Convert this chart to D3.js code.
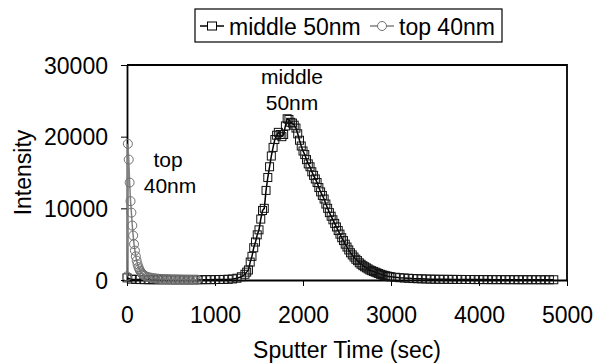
<!DOCTYPE html>
<html>
<head>
<meta charset="utf-8">
<script src="https://cdn.jsdelivr.net/npm/d3@7"></script>
<style>
  body { margin: 0; background: #fff; }
  svg text { font-family: "Liberation Sans", Arial, sans-serif; fill: #000; }
</style>
</head>
<body>
<div id="chart"></div>
<script>
// middle 50nm series (sec, counts)
const middleTime = [0, 50, 100, 150, 200, 250, 300, 350, 400, 450, 500, 550, 600, 650, 700, 750, 800, 850, 900, 950, 1000, 1050, 1100, 1150, 1200, 1250, 1300, 1340,
  1360, 1380, 1400, 1420, 1440, 1460, 1480, 1500, 1520, 1540, 1560, 1580, 1600, 1620, 1640, 1660, 1680, 1700, 1720, 1740, 1760, 1780, 1800, 1820, 1840, 1860, 1880, 1900,
  1920, 1940, 1960, 1980, 2000, 2020, 2040, 2060, 2080, 2100, 2120, 2140, 2160, 2180, 2200, 2220, 2240, 2260, 2280, 2300, 2320, 2340, 2360, 2380, 2400, 2420, 2440, 2460,
  2480, 2500, 2520, 2540, 2560, 2580, 2600, 2620, 2640, 2660, 2680, 2700, 2720, 2740, 2760, 2780, 2800, 2820, 2840, 2860, 2880, 2900, 2920, 2940, 2960, 2980, 3000,
  3050, 3100, 3150, 3200, 3250, 3300, 3350, 3400, 3450, 3500, 3550, 3600, 3650, 3700, 3750, 3800, 3850, 3900, 3950, 4000, 4050, 4100, 4150, 4200, 4250, 4300, 4350,
  4400, 4450, 4500, 4550, 4600, 4650, 4700, 4750, 4800, 4850];
const middleIntensity = [300, 120, 80, 60, 50, 40, 40, 30, 30, 30, 30, 30, 30, 30, 30, 40, 40, 40, 50, 50, 60, 70, 80, 100, 150, 250, 450, 800,
  1100, 1400, 2500, 3300, 4500, 5300, 6300, 7000, 8500, 9700, 10000, 12500, 14300, 15800, 17300, 18500, 19600, 20200, 20600, 20300, 20000, 20300, 21500, 22500, 22400, 22000, 21900, 21600,
  21200, 20400, 19500, 18700, 18000, 17500, 16800, 16200, 15800, 15100, 14600, 14100, 13600, 12900, 12300, 11800, 11300, 10600, 10000, 9400, 8900, 8400, 7900, 7400, 6900, 6400, 5900, 5500,
  5000, 4600, 4200, 3800, 3500, 3200, 2900, 2700, 2400, 2200, 2000, 1850, 1700, 1550, 1400, 1300, 1200, 1100, 1000, 900, 800, 720, 650, 590, 530, 480, 440,
  380, 320, 280, 240, 200, 180, 160, 140, 120, 110, 100, 95, 90, 85, 80, 75, 70, 65, 60, 60, 55, 55, 50, 50, 50, 45, 45,
  45, 40, 40, 40, 40, 40, 35, 35, 35, 35, 35];

// top 40nm series
const topTime = [0, 10, 20, 30, 40, 50, 60, 70, 80, 90, 100, 110, 120, 130, 140, 150, 160, 170, 180, 190, 200,
  220, 240, 260, 280, 300, 320, 340, 360, 380, 400, 420, 440, 460, 480, 500, 520, 540, 560, 580, 600,
  620, 640, 660, 680, 700, 720, 740, 760, 780, 800];
const topIntensity = [500, 19000, 16800, 13600, 11000, 9400, 7600, 6200, 5000, 4100, 3300, 2700, 2200, 1800, 1500, 1250, 1050, 900, 780, 680, 600,
  480, 400, 340, 290, 250, 220, 190, 170, 150, 135, 125, 115, 110, 100, 90, 85, 80, 80, 75, 70,
  65, 60, 60, 55, 55, 50, 50, 45, 45, 45];

const xTicks = [0, 1000, 2000, 3000, 4000, 5000];
const yTicks = [0, 10000, 20000, 30000];

const W = 595, H = 363;
const margin = { top: 65, right: 28, bottom: 83, left: 127 };
const width = W - margin.left - margin.right;
const height = H - margin.top - margin.bottom;
const fontSize = 23;

const svg = d3.select('#chart').append('svg')
  .attr('width', W)
  .attr('height', H);

const x = d3.scaleLinear().domain([0, 5000]).range([0, width]);
const y = d3.scaleLinear().domain([0, 30000]).range([height, 0]);

const g = svg.append('g')
  .attr('transform', `translate(${margin.left}, ${margin.top})`);

// plot box (top + right)
g.append('path')
  .attr('d', `M0,0H${width}V${height}`)
  .attr('fill', 'none')
  .attr('stroke', '#000')
  .attr('stroke-width', 1.8);

// axes
const xAxis = g.append('g')
  .attr('transform', `translate(0, ${height})`)
  .call(d3.axisBottom(x).tickValues(xTicks).tickSize(6).tickSizeOuter(0).tickFormat(d3.format('d')));
const yAxis = g.append('g')
  .call(d3.axisLeft(y).tickValues(yTicks).tickSize(6).tickSizeOuter(0).tickFormat(d3.format('d')));

[xAxis, yAxis].forEach(a => {
  a.select('.domain').attr('stroke', '#000').attr('stroke-width', 1.8);
  a.selectAll('.tick line').attr('stroke', '#000').attr('stroke-width', 1);
  a.selectAll('.tick text').attr('font-size', fontSize).attr('font-family', '"Liberation Sans", Arial, sans-serif');
});
xAxis.selectAll('.tick text').attr('y', 43).attr('dy', 0);
yAxis.selectAll('.tick text').attr('x', -19).attr('dy', '0.36em');

// series
const middleData = middleTime.map((t, i) => ({ t, v: middleIntensity[i] }));
const topData = topTime.map((t, i) => ({ t, v: topIntensity[i] }));

const line = d3.line().x(d => x(d.t)).y(d => y(d.v));

const sq = 8;
g.append('path').datum(middleData)
  .attr('d', line)
  .attr('fill', 'none')
  .attr('stroke', '#000')
  .attr('stroke-width', 1.5);
g.append('g').selectAll('rect')
  .data(middleData)
  .enter()
  .append('rect')
  .attr('x', d => x(d.t) - sq / 2)
  .attr('y', d => y(d.v) - sq / 2)
  .attr('width', sq)
  .attr('height', sq)
  .attr('fill', 'none')
  .attr('stroke', '#111')
  .attr('stroke-width', 1);

g.append('path').datum(topData)
  .attr('d', line)
  .attr('fill', 'none')
  .attr('stroke', '#808080')
  .attr('stroke-width', 1.5);
g.append('g').selectAll('circle')
  .data(topData)
  .enter()
  .append('circle')
  .attr('cx', d => x(d.t))
  .attr('cy', d => y(d.v))
  .attr('r', 4.5)
  .attr('fill', 'none')
  .attr('stroke', '#707070')
  .attr('stroke-width', 1);

// annotations
const noteSize = 21;
[['middle', 292, 84], ['50nm', 292, 110], ['top', 168, 167], ['40nm', 170, 193]].forEach(([txt, nx, ny]) => {
  svg.append('text').attr('x', nx).attr('y', ny)
    .attr('text-anchor', 'middle').attr('font-size', noteSize).text(txt);
});

// axis titles
svg.append('text')
  .attr('x', margin.left + width / 2).attr('y', 358)
  .attr('text-anchor', 'middle').attr('font-size', fontSize)
  .text('Sputter Time (sec)');
svg.append('text')
  .attr('transform', `translate(31, ${margin.top + height / 2}) rotate(-90)`)
  .attr('text-anchor', 'middle').attr('font-size', fontSize)
  .text('Intensity');

// legend
const leg = svg.append('g').attr('transform', 'translate(195, 9)');
leg.append('rect').attr('width', 307).attr('height', 33)
  .attr('fill', '#fff').attr('stroke', '#000').attr('stroke-width', 1.2);
const items = [
  { name: 'middle 50nm', color: '#000', shape: 'square', x: 5 },
  { name: 'top 40nm', color: '#808080', shape: 'circle', x: 175 }
];
items.forEach(it => {
  const ig = leg.append('g').attr('transform', `translate(${it.x}, 17)`);
  ig.append('line').attr('x1', 0).attr('x2', 24).attr('stroke', it.color).attr('stroke-width', 1.5);
  if (it.shape === 'square') {
    ig.append('rect').attr('x', 7.5).attr('y', -4).attr('width', 9).attr('height', 8)
      .attr('fill', '#fff').attr('stroke', '#000');
  } else {
    ig.append('circle').attr('cx', 12).attr('r', 4.5).attr('fill', '#fff').attr('stroke', '#707070');
  }
  ig.append('text').attr('x', 29).attr('y', 9).attr('font-size', fontSize).text(it.name);
});
</script>
</body>
</html>
